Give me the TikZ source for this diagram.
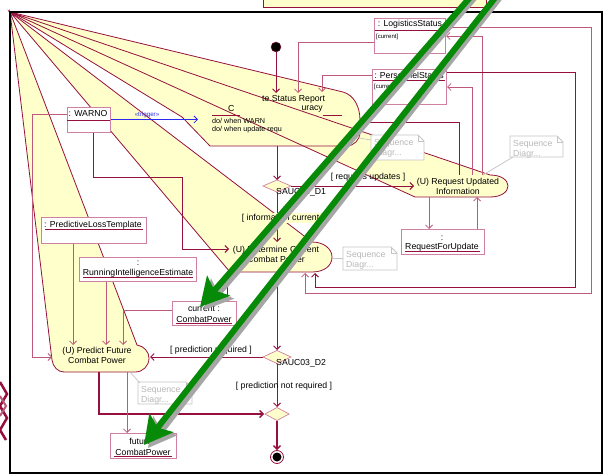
\documentclass[tikz,border=0pt]{standalone}
\usepackage{fontspec}
\setmainfont{Liberation Sans}
\usetikzlibrary{arrows.meta}
\definecolor{mar}{HTML}{96103E}
\definecolor{pk}{HTML}{C0587A}
\definecolor{bx}{HTML}{D080A0}
\definecolor{yel}{HTML}{FFFFCC}
\definecolor{gnote}{HTML}{C4C4C4}
\definecolor{gtext}{HTML}{B8B8B8}
\definecolor{grn}{HTML}{078A07}
\definecolor{trig}{HTML}{2A2AF0}
\begin{document}
\begin{tikzpicture}[x=1pt,y=-1pt,
  txt/.style={font=\fontsize{8.7}{10}\selectfont, inner sep=0pt},
  smalltxt/.style={font=\fontsize{6}{7}\selectfont, inner sep=0pt},
  dotxt/.style={font=\fontsize{7.2}{8}\selectfont, inner sep=0pt, anchor=west},
  ctl/.style={draw=mar, line width=0.9pt, -{Straight Barb[length=3.5pt,width=7pt]}},
  obj/.style={draw=pk, line width=0.8pt, -{Straight Barb[length=3.5pt,width=7pt]}},
  objbox/.style={draw=bx, fill=white, line width=0.8pt, inner sep=0pt, anchor=north west},
  actline/.style={draw=mar, line width=0.8pt},
  dia/.style={draw=bx, fill=yel, line width=0.7pt},
  notebox/.style={draw=gnote, fill=white, line width=0.9pt},
  ntext/.style={font=\fontsize{8.7}{10}\selectfont, text=gtext, inner sep=0pt, anchor=west},
  ul/.style={draw=mar, line width=0.7pt},
  gline/.style={draw=gnote, line width=0.7pt},
]
\useasboundingbox (0,0) rectangle (606,476);
\fill[white] (0,0) rectangle (606,476);

% ---------- glitched activity shapes (fills) ----------
\fill[yel] (10,12) -- (343,92) .. controls (354,95) and (360,107) .. (360,120) -- (360,132) .. controls (360,140) and (354,146) .. (346,146) -- (210,146) -- (182,117) -- cycle;
\fill[yel] (10,12) -- (490,175) .. controls (501,175) and (508,180) .. (508,186) .. controls (508,192) and (501,197) .. (490,197) -- (415,197) -- cycle;
\fill[yel] (10,12) -- (312,242) .. controls (324,242) and (332,249) .. (332,257) .. controls (332,266) and (324,272) .. (312,272) -- (230,272) -- cycle;
\fill[yel] (10,12) -- (137,345) .. controls (144,346) and (149,352) .. (149,358) .. controls (149,366) and (143,372) .. (135,372) -- (64,372) .. controls (58,372) and (53,367) .. (52,360) -- cycle;
% ---------- outlines ----------
\draw[actline] (10,12) -- (343,92) .. controls (354,95) and (360,107) .. (360,120) -- (360,132) .. controls (360,140) and (354,146) .. (346,146) -- (210,146) -- (182,117) -- cycle;
\draw[actline] (10,12) -- (490,175) .. controls (501,175) and (508,180) .. (508,186) .. controls (508,192) and (501,197) .. (490,197) -- (415,197) -- cycle;
\draw[actline] (10,12) -- (312,242) .. controls (324,242) and (332,249) .. (332,257) .. controls (332,266) and (324,272) .. (312,272) -- (230,272) -- cycle;
\draw[actline] (10,12) -- (137,345) .. controls (144,346) and (149,352) .. (149,358) .. controls (149,366) and (143,372) .. (135,372) -- (64,372) .. controls (58,372) and (53,367) .. (52,360) -- cycle;

% ---------- top state contents ----------
\draw[ul] (212,115) -- (240,115);
\draw[ul] (323,115) -- (342,115);
\node[txt, anchor=west] (ustxt1) at (262,99) {te Status Report};
\node[txt, anchor=west] (ustxt2) at (228,109) {C};
\node[txt, anchor=east] (ustxt3) at (323,109) {uracy};
\node[dotxt] (do1) at (212,121) {do/ when WARN};
\node[dotxt] (do2) at (212,130) {do/ when update requ};

% ---------- activity texts ----------
\node[txt, align=center] (rui) at (458,186) {(U) Request Updated\\Information};
\node[txt, align=center] (dcc) at (276,254) {(U) Determine Current\\Combat Power};
\node[txt, align=center] (pfc) at (97,355) {(U) Predict Future\\Combat Power};

% ---------- object boxes ----------
\node[objbox, minimum width=71pt, minimum height=35pt] (logst) at (374,18) {};
\draw[ul] (375,30) -- (444,30);
\node[txt] at (410,24) {: LogisticsStatus};
\node[smalltxt, anchor=west] at (376,37) {[current]};

\node[objbox, minimum width=74pt, minimum height=35pt] (perst) at (372,69) {};
\draw[ul] (373,80) -- (445,80);
\node[txt] at (409,75) {: PersonnelStatus};
\node[smalltxt, anchor=west] at (374,87) {[current]};

\node[objbox, minimum width=43pt, minimum height=25pt] (warno) at (67,107) {};
\draw[ul] (67,120) -- (110,120);
\node[txt] at (88,114) {: WARNO};

\node[objbox, minimum width=105pt, minimum height=26pt] (plt) at (41,217) {};
\node[txt] at (93,225) {: PredictiveLossTemplate};
\draw[ul] (45,229.5) -- (143,229.5);

\node[objbox, minimum width=117pt, minimum height=24pt] (rie) at (79,257) {};
\node[txt] at (138,263) {:};
\node[txt] at (138,273) {RunningIntelligenceEstimate};
\draw[ul] (83,277.5) -- (193,277.5);

\node[objbox, minimum width=64pt, minimum height=24pt] (ccp) at (172,301) {};
\node[txt] at (204,309) {current :};
\node[txt] at (204,319) {CombatPower};
\draw[ul] (176,323) -- (232,323);

\node[objbox, minimum width=66pt, minimum height=25pt] (fcp) at (110,433) {};
\node[txt] at (143,441) {future :};
\node[txt] at (143,452) {CombatPower};
\draw[ul] (114,456) -- (172,456);

\node[objbox, minimum width=83pt, minimum height=25pt] (rfu) at (401,229) {};
\node[txt] at (442,238) {:};
\node[txt] at (442,247) {RequestForUpdate};
\draw[ul] (405,251.5) -- (480,251.5);

% ---------- notes ----------
\foreach \nm/\xa/\ya/\xb/\yb in {na/371/135/424/160, nb/510/136/563/157, nc/343/247/397/270, nd/138/382/192/404}{
  \draw[notebox] (\xa,\ya) -- (\xb-6,\ya) -- (\xb,\ya+6) -- (\xb,\yb) -- (\xa,\yb) -- cycle;
  \draw[gline] (\xb-6,\ya) -- (\xb-6,\ya+6) -- (\xb,\ya+6);
  \node[ntext] (\nm) at (\xa+3,\ya+8) {Sequence};
  \node[ntext] at (\xa+3,\ya+18) {Diagr...};
}
\draw[gline] (359,138) -- (371,140);
\draw[gline] (483,175) -- (513,157);
\draw[gline] (332,258) -- (343,258);
\draw[gline] (130,372) -- (140,383);

% ---------- pseudo nodes ----------
\node[circle, fill=black, draw=mar, minimum size=10pt, inner sep=0pt] (init) at (276,47) {};
\draw[dia] (263,186) -- (277,180) -- (291,186) -- (277,192) -- cycle;
\coordinate (d1) at (277,186);
\node[txt, anchor=west] at (276,192) {SAUC03\_D1};
\draw[dia] (263,357) -- (277,350.5) -- (291,357) -- (277,363.5) -- cycle;
\coordinate (d2) at (277,357);
\node[txt, anchor=west] at (276,363) {SAUC03\_D2};
\draw[dia] (265,414) -- (277,407.5) -- (289,414) -- (277,420.5) -- cycle;
\coordinate (mrg) at (277,414);
\node[circle, draw=mar, fill=white, line width=0.8pt, minimum size=13pt, inner sep=0pt] (fin) at (277,457) {};
\fill[black] (fin) circle (4.5pt);

% ---------- connectors ----------
\draw[ctl] (init) -- (276,93);
\draw[obj] (logst.west |- 0,42) -- (298,42) -- (298,93);
\draw[obj] (perst.west |- 0,75) -- (322,75) -- (322,92);
\draw[ctl] (277,146) -- (277,180);
\draw[actline] (360,122) -- (459,122) -- (459,175);
\draw[ctl] (291,186) -- (414,186);
\node[txt] at (368,177) {[ requires updates ]};
\draw[ctl] (277,192) -- (277,242);
\node[txt, fill=yel, inner sep=1pt] at (283,218) {[ information current ]};
\draw[obj] (482,175) -- (482,36) -- (446,36);
\draw[obj] (472,175) -- (472,87) -- (447,87);
\draw[obj] (429,197) -- (rfu.north -| 429,0);
\draw[obj] (rfu.north -| 477,0) -- (477,197);
\draw[obj] (logst.east |- 0,27) -- (591,27) -- (591,293) -- (305,293) -- (305,273);
\draw[ctl] (perst.east |- 0,72) -- (575,72) -- (575,287) -- (315,287) -- (315,273);
\draw[obj] (warno.west |- 0,114) -- (32,114) -- (32,357) -- (52,357);
\draw[ctl] (warno.south -| 93,0) -- (93,177) -- (182,177) -- (182,249) -- (229,249);
\draw[draw=trig, line width=0.8pt, -{Straight Barb[length=3.5pt,width=7pt]}] (warno.east |- 0,119.5) -- (198,119.5);
\node[font=\fontsize{6.2}{7}\selectfont, text=trig, inner sep=0pt] at (147,115) {<<trigger>>};
\draw[ctl] (227,272) -- (ccp.north -| 227,0);
\draw[obj] (ccp.west |- 0,310) -- (123,310) -- (123,345);
\draw[obj] (plt.south -| 73,0) -- (73,345);
\draw[obj] (rie.south -| 106,0) -- (106,345);
\draw[ctl] (277,272) -- (277,350);
\draw[ctl] (263,357) -- (150,357);
\node[txt] at (211,350) {[ prediction required ]};
\draw[ctl] (277,363.5) -- (277,407);
\node[txt] at (284,386) {[ prediction not required ]};
\draw[draw=mar, line width=1.4pt, -{Straight Barb[length=3.5pt,width=7pt]}] (99,372) -- (99,414) -- (264,414);
\draw[obj] (127,372) -- (fcp.north -| 127,0);
\draw[draw=mar, line width=1.4pt, -{Straight Barb[length=3.5pt,width=7pt]}] (277,420.5) -- (fin.north);

% ---------- frame and outside fragments ----------
\draw[line width=2.5pt] (10,12) rectangle (602,473);
\draw[mar, fill=yel, line width=0.8pt] (263,-3) rectangle (486,7);
\draw[mar, line width=2.5pt] (0,382) -- (7,394) -- (0,406) -- (7,418) -- (0,430) -- (6,440);
\draw[mar!70, line width=2pt] (0,396) -- (6,406) -- (0,416);

% ---------- green annotation arrows ----------
\draw[line width=6pt, black!35, -{Stealth[length=28pt,width=30pt,inset=6pt]}] (476,-4) -- (204,310);
\draw[line width=6pt, grn, -{Stealth[length=28pt,width=30pt,inset=6pt]}] (473,-6) -- (200,307);
\draw[line width=6pt, black!35, -{Stealth[length=28pt,width=30pt,inset=6pt]}] (501,-4) -- (148,448);
\draw[line width=6pt, grn, -{Stealth[length=28pt,width=30pt,inset=6pt]}] (498,-6) -- (144,445);
\end{tikzpicture}
\end{document}
